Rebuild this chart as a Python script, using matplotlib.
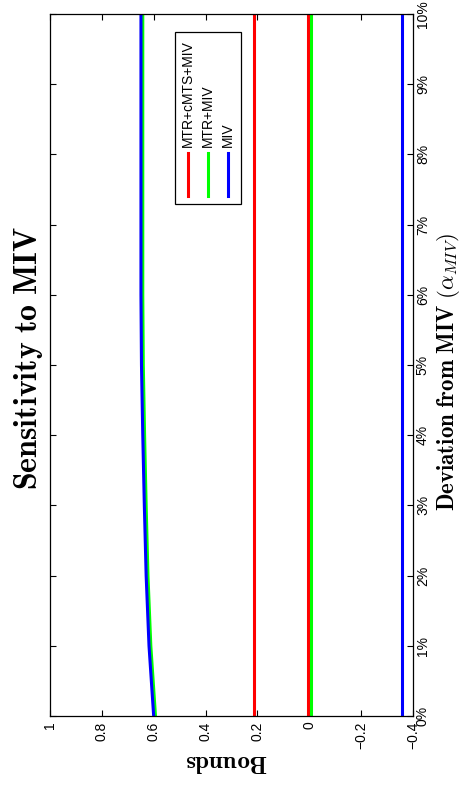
import matplotlib
matplotlib.use('Agg')
import matplotlib.pyplot as plt
from matplotlib.lines import Line2D
from matplotlib.patches import Rectangle

plt.rcParams['font.family'] = ['Liberation Sans', 'DejaVu Sans']
plt.rcParams['mathtext.fontset'] = 'cm'

# deviation from MIV in percent
deviation = [0, 1, 2, 3, 4, 5, 6, 7, 8, 9, 10]

# bounds for each set of assumptions
mtr_cmts_miv_upper = [0.212, 0.212, 0.212, 0.212, 0.212, 0.212, 0.212, 0.212, 0.212, 0.212, 0.212]
mtr_cmts_miv_lower = [0.004, 0.004, 0.004, 0.004, 0.004, 0.004, 0.004, 0.004, 0.004, 0.004, 0.004]
mtr_miv_upper = [0.593, 0.611, 0.622, 0.629, 0.635, 0.640, 0.642, 0.642, 0.642, 0.642, 0.642]
mtr_miv_lower = [-0.007, -0.007, -0.007, -0.007, -0.007, -0.007, -0.007, -0.007, -0.007, -0.007, -0.007]
miv_upper = [0.600, 0.618, 0.629, 0.636, 0.642, 0.647, 0.649, 0.649, 0.649, 0.649, 0.649]
miv_lower = [-0.356, -0.356, -0.356, -0.356, -0.356, -0.356, -0.356, -0.356, -0.356, -0.356, -0.356]

series_names = ['MTR+cMTS+MIV', 'MTR+MIV', 'MIV']
series_colors = ['#ff0000', '#00ff00', '#0000ff']

bound_ticks = [1, 0.8, 0.6, 0.4, 0.2, 0, -0.2, -0.4]
bound_labels = ['1', '0.8', '0.6', '0.4', '0.2', '0', '\u22120.2', '\u22120.4']
dev_labels = ['0%', '1%', '2%', '3%', '4%', '5%', '6%', '7%', '8%', '9%', '10%']

# page is laid out sideways: bounds run along the horizontal axis, deviation up the vertical one
fig = plt.figure(figsize=(4.61, 7.86), dpi=100)
ax = fig.add_axes([0.1082, 0.0891, 0.788, 0.8931])

pairs = [(mtr_cmts_miv_upper, mtr_cmts_miv_lower),
         (mtr_miv_upper, mtr_miv_lower),
         (miv_upper, miv_lower)]
for (up, lo), col in zip(pairs, series_colors):
    ax.plot(up, deviation, color=col, lw=2.2)
    ax.plot(lo, deviation, color=col, lw=2.2)

ax.set_xlim(1, -0.4)
ax.set_ylim(0, 10)
ax.set_xticks(bound_ticks)
ax.set_xticklabels(bound_labels, rotation=90, va='top', ha='center')
ax.set_yticks(deviation)
ax.set_yticklabels(dev_labels)
ax.yaxis.tick_right()
ax.tick_params(axis='both', direction='in', length=4.5, width=0.8,
               top=True, bottom=True, left=True, right=True,
               labelsize=10, pad=4)
ax.tick_params(axis='y', labelleft=False, labelright=True, pad=2)
plt.setp(ax.get_yticklabels(), rotation=90, va='center', ha='left')
for s in ax.spines.values():
    s.set_linewidth(0.9)

# titles and axis labels, turned with the page
fig.text(0.062, 0.544, r'$\mathbf{Sensitivity\ to\ MIV}$', rotation=90,
         ha='center', va='center', fontsize=23)
fig.text(0.984, 0.527, r'$\mathbf{Deviation\ from\ MIV}\ (\alpha_{MIV})$', rotation=90,
         rotation_mode='anchor', ha='center', va='baseline', fontsize=16.5)
fig.text(0.491, 0.030, r'$\mathbf{Bounds}$', rotation=180,
         ha='center', va='center', fontsize=18)

# legend box drawn sideways
fig.add_artist(Rectangle((0.3796, 0.7405), 0.1432, 0.2192, transform=fig.transFigure,
                         facecolor='white', edgecolor='black', lw=0.9, zorder=5))
for xp, name, col in zip([187.7, 208.3, 228.3], series_names, series_colors):
    fx = xp / 461
    fig.add_artist(Line2D([fx, fx], [0.7506, 0.8057], transform=fig.transFigure,
                          color=col, lw=2.2, zorder=6))
    fig.text(fx, 0.8134, name, rotation=90, ha='center', va='bottom',
             fontsize=10, zorder=6)

fig.savefig('out.png', dpi=100)
